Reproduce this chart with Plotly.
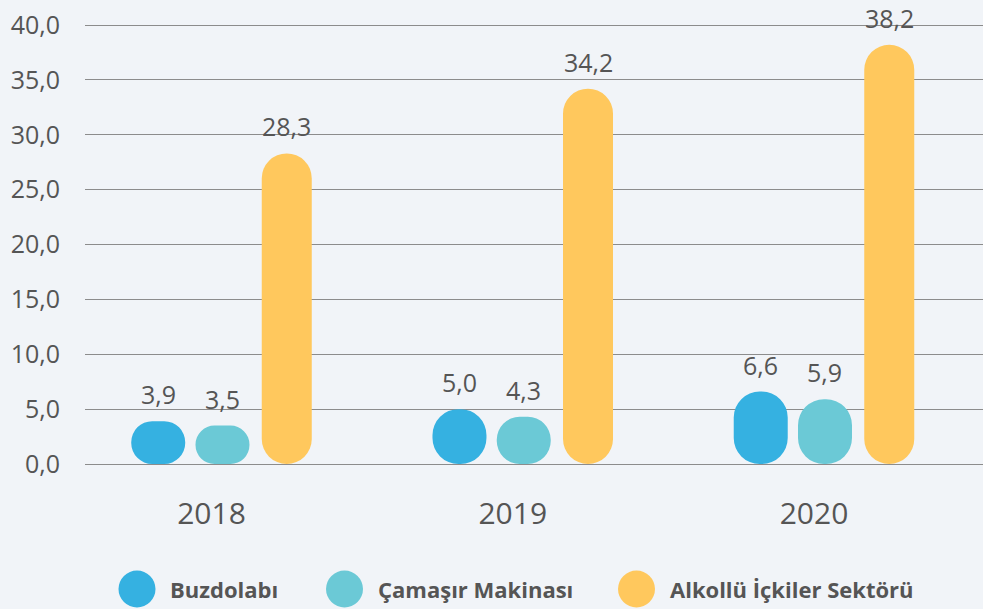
import plotly.graph_objects as go

# ---- data ----
years = ["2018", "2019", "2020"]
series_names = ["Buzdolabı", "Çamaşır Makinası", "Alkollü İçkiler Sektörü"]
buzdolabi = [3.9, 5.0, 6.6]
camasir_makinasi = [3.5, 4.3, 5.9]
alkollu_icki = [28.3, 34.2, 38.2]
y_tick_values = [0, 5, 10, 15, 20, 25, 30, 35, 40]

series_values = [buzdolabi, camasir_makinasi, alkollu_icki]
colors = ["#35b1e1", "#6bc9d6", "#ffc85d"]
text_color = "#555555"
bg = "#f1f4f8"
grid_color = "#8c8c8c"

# ---- layout constants ----
W, H = 983, 609
EDGE_PX = 3                      # keep the 0 and 40 gridlines off the plot edge
M_L, M_R, M_T, M_B = 85, 0, 25 - EDGE_PX, 145 - EDGE_PX
Y_MAX = 40
Y_PPU = (H - 25 - 145) / Y_MAX   # pixels per unit on the value axis
Y_RANGE = [-EDGE_PX / Y_PPU, Y_MAX + EDGE_PX / Y_PPU]
X_RANGE = [-0.4564, 2.5245]
BARGAP = 0.36
BARGROUPGAP = 0.16
YELLOW_WIDTH = 0.166

plot_w = W - M_L - M_R
plot_h = H - M_T - M_B
ppu_y = plot_h / (Y_RANGE[1] - Y_RANGE[0])
ppu_x = plot_w / (X_RANGE[1] - X_RANGE[0])
slot = (1 - BARGAP) / len(series_values)
default_bar_px = slot * (1 - BARGROUPGAP) * ppu_x
bar_widths = [None, None, YELLOW_WIDTH]


def fmt(v):
    return f"{v:.1f}".replace(".", ",")


fig = go.Figure()

for j, (name, vals, col) in enumerate(zip(series_names, series_values, colors)):
    w_units = bar_widths[j]
    bar_px = w_units * ppu_x if w_units else default_bar_px
    for i, (cat, v) in enumerate(zip(years, vals)):
        r = min(bar_px / 2, v * ppu_y / 2)
        kw = dict(
            x=[cat],
            y=[v],
            base=[0],
            offsetgroup=str(j),
            showlegend=False,
            name=name,
            marker=dict(color=col, cornerradius=r, line=dict(width=0)),
            hovertemplate=f"{name}<br>{cat}: {fmt(v)}<extra></extra>",
        )
        if w_units:
            kw["width"] = [w_units]
        fig.add_trace(go.Bar(**kw))
        fig.add_annotation(
            x=i + (j - (len(series_values) - 1) / 2) * slot,
            y=v,
            xref="x",
            yref="y",
            text=fmt(v),
            showarrow=False,
            yanchor="middle",
            yshift=27,
            font=dict(size=25, color=text_color),
        )

# ---- custom legend (large round markers) ----
legend_px_x = [137, 344.5, 636.5]
legend_px_y = 589
legend_r = 18.5
for name, col, lx in zip(series_names, colors, legend_px_x):
    px = (lx - M_L) / plot_w
    py = (H - M_B - legend_px_y) / plot_h
    fig.add_shape(
        type="circle",
        xref="paper", yref="paper",
        xsizemode="pixel", ysizemode="pixel",
        xanchor=px, yanchor=py,
        x0=-legend_r, x1=legend_r, y0=-legend_r, y1=legend_r,
        fillcolor=col, line=dict(width=0),
    )
    fig.add_annotation(
        x=(lx + 31 - M_L) / plot_w, y=py,
        xref="paper", yref="paper",
        xanchor="left", yanchor="middle",
        text=f"<b>{name}</b>",
        showarrow=False,
        font=dict(size=22, color=text_color),
    )

fig.update_layout(
    width=W,
    height=H,
    autosize=False,
    margin=dict(l=M_L, r=M_R, t=M_T, b=M_B, pad=0),
    paper_bgcolor=bg,
    plot_bgcolor=bg,
    font=dict(family="Open Sans", color=text_color),
    separators=",.",
    barmode="group",
    bargap=BARGAP,
    bargroupgap=BARGROUPGAP,
    showlegend=False,
)
fig.update_xaxes(
    type="category",
    categoryorder="array",
    categoryarray=years,
    range=X_RANGE,
    showgrid=False,
    zeroline=False,
    showline=False,
    ticks="",
    tickfont=dict(size=30, color=text_color),
    ticklabelstandoff=29 - EDGE_PX,
    ticklabelshift=-11,
)
fig.update_yaxes(
    range=Y_RANGE,
    tickmode="array",
    tickvals=y_tick_values,
    tickformat=".1f",
    showgrid=True,
    gridcolor=grid_color,
    gridwidth=1,
    zeroline=False,
    showline=False,
    ticks="",
    tickfont=dict(size=25, color=text_color),
    ticklabelstandoff=24,
)

fig.write_html(
    "out.html",
    config={"displayModeBar": False},
    post_script="document.body.style.margin='0px';document.body.style.background='" + bg + "';",
)
